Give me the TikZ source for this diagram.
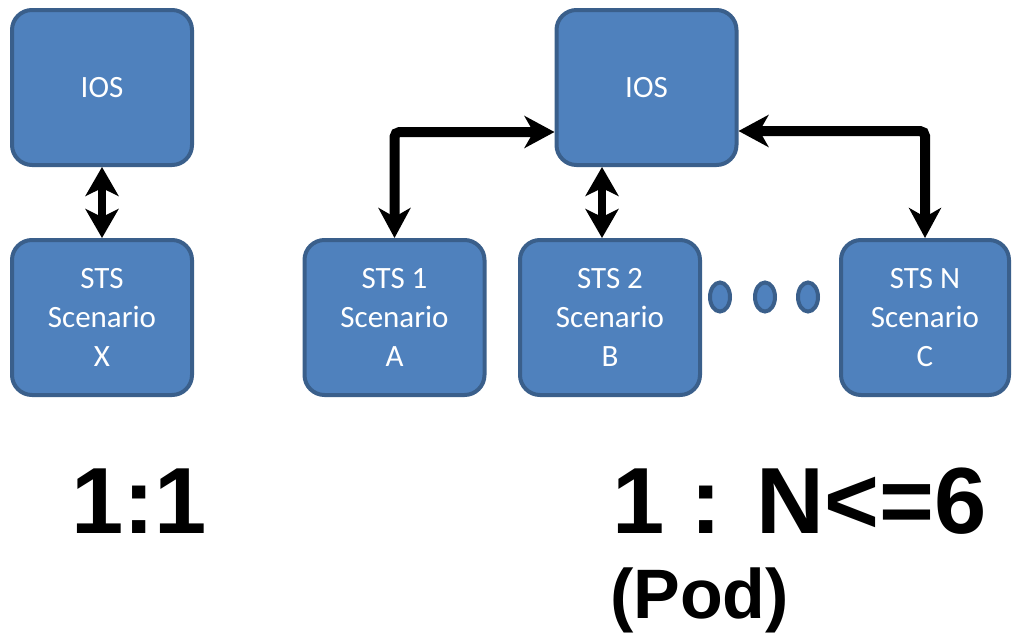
\documentclass[tikz,border=0pt]{standalone}
\usepackage{fontspec}
\setmainfont{Carlito}
\newfontfamily\ratiofont{Liberation Sans}
\usetikzlibrary{arrows.meta,shapes.geometric}
\definecolor{boxfill}{HTML}{4F81BD}
\definecolor{boxline}{HTML}{3A5F8B}
\tikzset{
  unitbox/.style={draw=boxline, fill=boxfill, line width=4pt, rounded corners=20pt,
    minimum width=180pt, minimum height=155pt, text=white, align=center,
    font=\fontsize{31}{39}\selectfont, inner sep=0pt},
  moredots/.style={draw=boxline, fill=boxfill, line width=4pt, ellipse,
    minimum width=20pt, minimum height=29pt, inner sep=0pt},
  link/.style={line width=10pt, rounded corners=5pt,
    {Stealth[length=30pt,width=32pt,inset=9pt]}-{Stealth[length=30pt,width=32pt,inset=9pt]}},
  shortlink/.style={line width=8pt,
    {Stealth[length=29pt,width=33pt,inset=8pt]}-{Stealth[length=29pt,width=33pt,inset=8pt]}},
  ratio/.style={font=\ratiofont\bfseries\fontsize{94}{110}\selectfont, inner sep=0pt, anchor=base west},
  podlabel/.style={font=\ratiofont\bfseries\fontsize{70}{80}\selectfont, inner sep=0pt, anchor=base west}
}
\begin{document}
\begin{tikzpicture}[x=1pt, y=-1pt]
\useasboundingbox (0,0) rectangle (1012,635);

% one-to-one pairing
\node[unitbox] (iosL) at (102,87.5) {IOS};
\node[unitbox] (stsX) at (102,317.5) {STS\\Scenario\\X};
\draw[shortlink] (iosL.south) -- (stsX.north);

% one IOS serving several STS units
\node[unitbox] (iosR) at (646.5,87.5) {IOS};
\node[unitbox] (sts1) at (394.5,317.5) {STS 1\\Scenario\\A};
\node[unitbox] (sts2) at (610,317.5) {STS 2\\Scenario\\B};
\node[unitbox, minimum width=168pt] (stsN) at (925,317.5) {STS N\\Scenario\\C};

\node[moredots] (dot1) at (720,297) {};
\node[moredots] (dot2) at (765,297) {};
\node[moredots] (dot3) at (808,297) {};

\draw[link] (sts1.north) |- ([yshift=-44.5pt]iosR.west);
\draw[link] ([yshift=-43.5pt]iosR.east) -| (stsN.north);
\coordinate (midlink) at ([xshift=-8pt]sts2.north);
\draw[shortlink] (midlink |- iosR.south) -- (midlink);

% ratio captions
\node[ratio] (oneone) at (71,533) {1:1};
\node[ratio] (onen) at (612,533) {1 : N<=6};
\node[podlabel] (pod) at (610,618) {(Pod)};
\end{tikzpicture}
\end{document}
